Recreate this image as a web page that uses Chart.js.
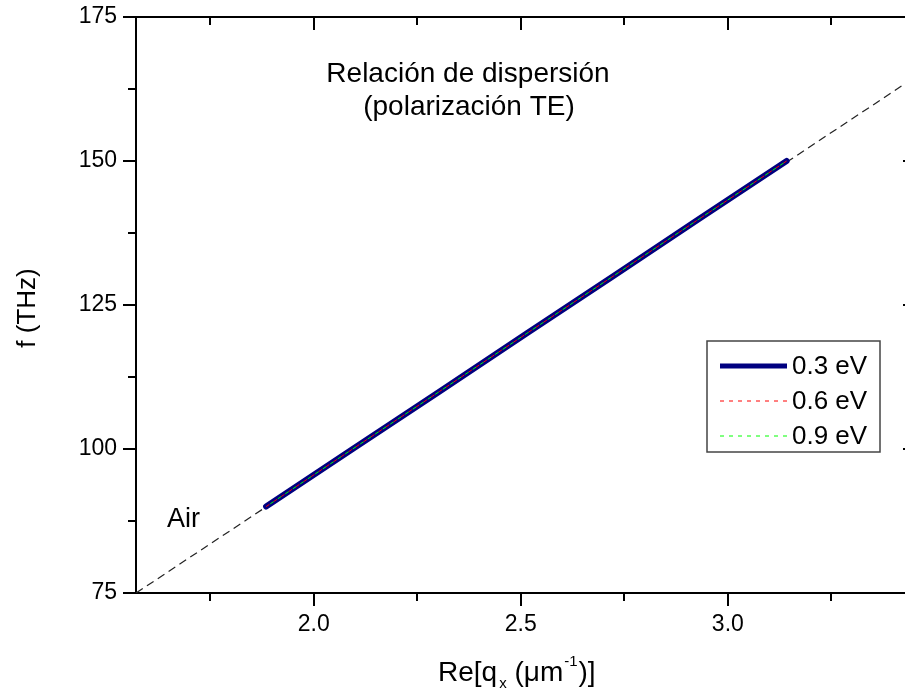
<!DOCTYPE html>
<html>
<head>
<meta charset="utf-8">
<script src="https://cdn.jsdelivr.net/npm/chart.js@4.4.0/dist/chart.umd.min.js"></script>
<style>
    html, body { margin: 0; padding: 0; background: #fff; overflow: hidden; }
    canvas { display: block; }
</style>
</head>
<body>
<canvas id="dispersionChart" width="930" height="693"></canvas>
<script>
// Dispersion relation (TE)

// light line "Air"
const qAir = [1.571, 3.455];
const fAir = [75, 164.7];

// graphene curves (all three overlap the light line)
const q03 = [1.885, 2.094, 2.304, 2.513, 2.723, 2.932, 3.142];
const f03 = [90, 100, 110, 120, 130, 140, 150];
const q06 = [1.885, 2.094, 2.304, 2.513, 2.723, 2.932, 3.142];
const f06 = [90, 100, 110, 120, 130, 140, 150];
const q09 = [1.885, 2.094, 2.304, 2.513, 2.723, 2.932, 3.142];
const f09 = [90, 100, 110, 120, 130, 140, 150];

const seriesLabels = ['0.3 eV', '0.6 eV', '0.9 eV'];

// axes
const xMajorTicks = [2.0, 2.5, 3.0];
const xMinorTicks = [1.75, 2.25, 2.75, 3.25];
const yMajorTicks = [75, 100, 125, 150, 175];
const yMinorTicks = [87.5, 112.5, 137.5, 162.5];

const FONT = '"Liberation Sans", Arial, sans-serif';

function toPoints(xs, ys) {
    return xs.map((x, i) => ({ x: x, y: ys[i] }));
}

const datasets = [
    {
        label: 'Air',
        data: toPoints(qAir, fAir),
        borderColor: '#222',
        borderWidth: 1.2,
        borderDash: [8, 5],
        order: 4
    },
    {
        label: seriesLabels[0],
        data: toPoints(q03, f03),
        borderColor: '#000080',
        borderWidth: 6,
        borderCapStyle: 'round',
        order: 3
    },
    {
        label: seriesLabels[1],
        data: toPoints(q06, f06),
        borderColor: '#ff0000',
        borderWidth: 1,
        borderDash: [4, 5],
        order: 2
    },
    {
        label: seriesLabels[2],
        data: toPoints(q09, f09),
        borderColor: '#00ff00',
        borderWidth: 1,
        borderDash: [4, 5],
        borderDashOffset: 4,
        order: 1
    }
];

datasets.forEach(ds => {
    ds.showLine = true;
    ds.pointRadius = 0;
    ds.fill = false;
    ds.tension = 0;
});

function line(ctx, x1, y1, x2, y2) {
    ctx.beginPath();
    ctx.moveTo(x1, y1);
    ctx.lineTo(x2, y2);
    ctx.stroke();
}

// frame, inner/outer ticks, texts and legend
const decorations = {
    id: 'decorations',
    afterDraw(chart) {
        const ctx = chart.ctx;
        const { left, right, top, bottom } = chart.chartArea;
        const xs = chart.scales.x;
        const ys = chart.scales.y;

        ctx.save();
        ctx.strokeStyle = '#000';
        ctx.lineWidth = 2;
        ctx.lineCap = 'butt';

        // top and right axis lines
        line(ctx, left - 1, top, right + 1, top);
        line(ctx, right, top, right, bottom);

        xMajorTicks.forEach(v => {
            const px = Math.round(xs.getPixelForValue(v));
            line(ctx, px, bottom, px, bottom + 13);
            line(ctx, px, top, px, top + 13);
        });
        xMinorTicks.forEach(v => {
            const px = Math.round(xs.getPixelForValue(v));
            line(ctx, px, bottom, px, bottom + 8);
            line(ctx, px, top, px, top + 8);
        });
        yMajorTicks.forEach(v => {
            const py = Math.round(ys.getPixelForValue(v));
            line(ctx, left - 13, py, left, py);
            line(ctx, right - 13, py, right, py);
        });
        yMinorTicks.forEach(v => {
            const py = Math.round(ys.getPixelForValue(v));
            line(ctx, left - 8, py, left, py);
            line(ctx, right - 8, py, right, py);
        });

        // titles inside the plot
        ctx.fillStyle = '#000';
        ctx.textBaseline = 'alphabetic';
        ctx.font = '28px ' + FONT;
        ctx.textAlign = 'center';
        ctx.fillText('Relación de dispersión', 468, 82);
        ctx.fillText('(polarización TE)', 469, 115);

        ctx.textAlign = 'left';
        ctx.font = '27px ' + FONT;
        ctx.fillText('Air', 167, 527);

        // y axis title
        ctx.save();
        ctx.translate(35, 308);
        ctx.rotate(-Math.PI / 2);
        ctx.textAlign = 'center';
        ctx.font = '26px ' + FONT;
        ctx.fillText('f (THz)', 0, 0);
        ctx.restore();

        // x axis title with sub/superscripts
        let x = 438;
        const base = 681;
        ctx.textAlign = 'left';
        ctx.font = '28px ' + FONT;
        ctx.fillText('Re[q', x, base);
        x += ctx.measureText('Re[q').width + 2;
        ctx.font = '15px ' + FONT;
        ctx.fillText('x', x, base + 7);
        x += ctx.measureText('x').width;
        ctx.font = '28px ' + FONT;
        ctx.fillText(' (\u03bcm', x, base);
        x += ctx.measureText(' (\u03bcm').width + 1;
        ctx.font = '15px ' + FONT;
        ctx.fillText('-1', x, base - 15);
        x += ctx.measureText('-1').width + 1;
        ctx.font = '28px ' + FONT;
        ctx.fillText(')]', x, base);

        // legend box
        const lx = 707, ly = 341, lw = 173, lh = 111;
        ctx.fillStyle = '#fff';
        ctx.fillRect(lx, ly, lw, lh);
        ctx.strokeStyle = '#444';
        ctx.lineWidth = 1.5;
        ctx.strokeRect(lx, ly, lw, lh);

        const rows = [366, 401, 436];
        ctx.font = '26px ' + FONT;
        ctx.textBaseline = 'middle';
        seriesLabels.forEach((lbl, i) => {
            const ds = chart.data.datasets[i + 1];
            ctx.save();
            ctx.strokeStyle = ds.borderColor;
            ctx.lineWidth = Math.min(ds.borderWidth, 5);
            ctx.setLineDash(ds.borderDash || []);
            line(ctx, 720, rows[i], 787, rows[i]);
            ctx.restore();
            ctx.fillStyle = '#000';
            ctx.fillText(lbl, 792, rows[i] + 1);
        });

        ctx.restore();
    }
};

const chart = new Chart(document.getElementById('dispersionChart'), {
    type: 'scatter',
    data: { datasets: datasets },
    options: {
        responsive: false,
        animation: false,
        layout: {
            padding: { left: 0, top: 17, right: 14, bottom: 0 }
        },
        plugins: {
            legend: { display: false },
            tooltip: { enabled: false },
            title: { display: false }
        },
        scales: {
            x: {
                type: 'linear',
                position: 'bottom',
                min: 1.5708,
                max: 3.4544,
                afterBuildTicks: scale => {
                    scale.ticks = xMajorTicks.map(v => ({ value: v }));
                },
                afterFit: scale => {
                    scale.height = 100;
                    scale.paddingLeft = 0;
                    scale.paddingRight = 0;
                },
                grid: { display: false, drawTicks: false },
                border: { display: true, color: '#000', width: 2 },
                ticks: {
                    color: '#000',
                    padding: 18,
                    maxRotation: 0,
                    font: { family: FONT, size: 23 },
                    callback: v => v.toFixed(1)
                }
            },
            y: {
                type: 'linear',
                position: 'left',
                min: 75,
                max: 175,
                afterBuildTicks: scale => {
                    scale.ticks = yMajorTicks.map(v => ({ value: v }));
                },
                afterFit: scale => {
                    scale.width = 136;
                    scale.paddingTop = 0;
                    scale.paddingBottom = 0;
                },
                grid: { display: false, drawTicks: false },
                border: { display: true, color: '#000', width: 2 },
                ticks: {
                    color: '#000',
                    padding: 19,
                    font: { family: FONT, size: 23 },
                    callback: v => String(v)
                }
            }
        }
    },
    plugins: [decorations]
});
</script>
</body>
</html>
